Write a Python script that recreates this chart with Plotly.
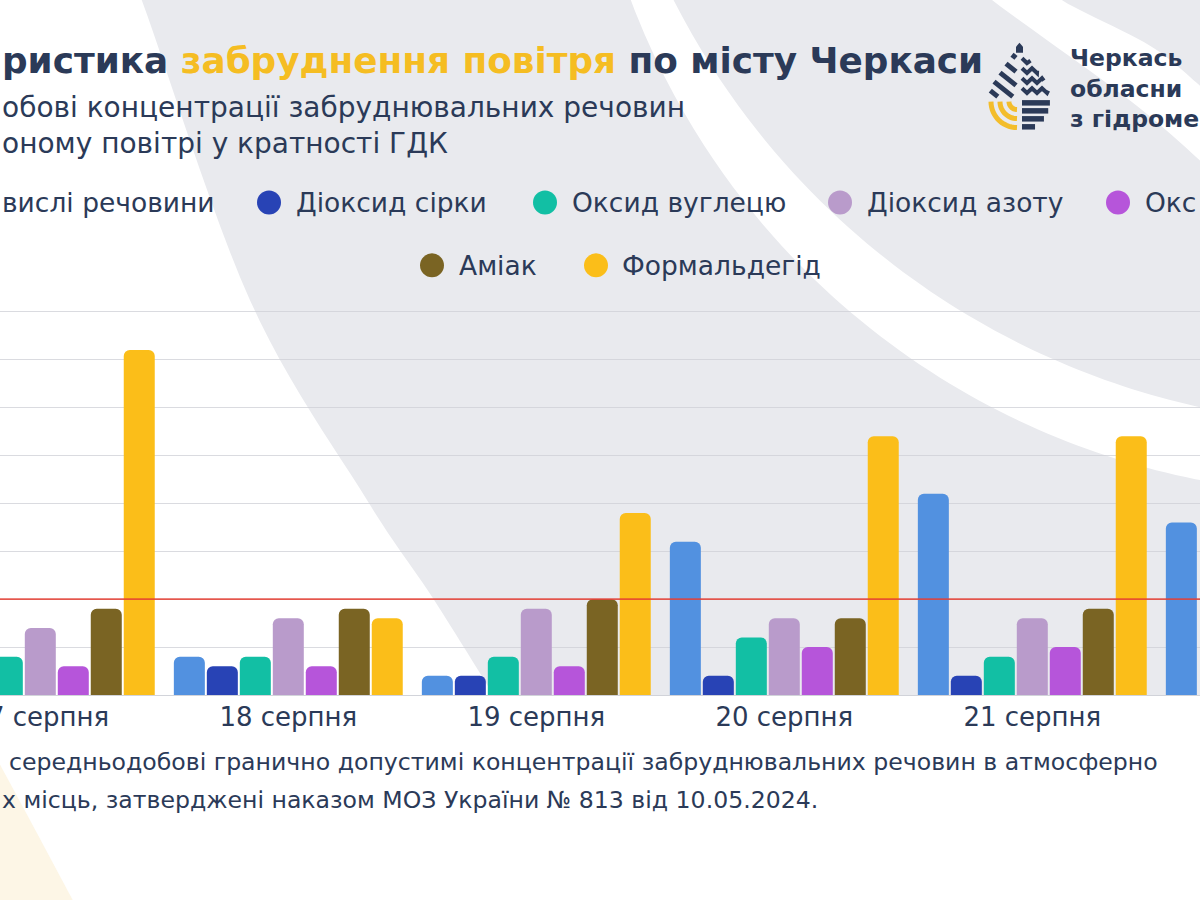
import plotly.graph_objects as go
import math

# ---------------- data ----------------
dates = ["17 серпня", "18 серпня", "19 серпня", "20 серпня", "21 серпня", "22 серпня"]
series_names = ["Завислі речовини", "Діоксид сірки", "Оксид вуглецю", "Діоксид азоту",
                "Оксид азоту", "Аміак", "Формальдегід"]
zavysli = [None, 0.4, 0.2, 1.6, 2.1, 1.8]
dioksyd_sirky = [None, 0.3, 0.2, 0.2, 0.2, None]
oksyd_vuglecyu = [0.4, 0.4, 0.4, 0.6, 0.4, None]
dioksyd_azotu = [0.7, 0.8, 0.9, 0.8, 0.8, None]
oksyd_azotu = [0.3, 0.3, 0.3, 0.5, 0.5, None]
amiak = [0.9, 0.9, 1.0, 0.8, 0.9, None]
formaldegid = [3.6, 0.8, 1.9, 2.7, 2.7, None]
gdk_level = 1.0
y_ticks = [0, 0.5, 1, 1.5, 2, 2.5, 3, 3.5, 4]

values = [zavysli, dioksyd_sirky, oksyd_vuglecyu, dioksyd_azotu, oksyd_azotu, amiak, formaldegid]
colors = ["#5291e0", "#2843b5", "#12bfa4", "#b99bcb", "#b655da", "#7a6423", "#fbbe19"]

NAVY = "#2b3a58"
YELLOW_T = "#f5bd22"
GRAY_BG = "#e9eaee"
FONT = "DejaVu Sans"

W, H = 1200, 900
Y_TOP = 4.1
MB = 204.7
PLOT_H = Y_TOP * 96
MT = H - MB - PLOT_H


def px(x):
    return x / W


def py(y):
    return (H - MB - y) / PLOT_H


def path_from(points, close=True):
    s = "M " + " L ".join(f"{px(x):.5f},{py(y):.5f}" for x, y in points)
    return s + (" Z" if close else "")


def catmull(points, n=12):
    out = []
    pts = [points[0]] + points + [points[-1]]
    for i in range(1, len(pts) - 2):
        p0, p1, p2, p3 = pts[i - 1], pts[i], pts[i + 1], pts[i + 2]
        for k in range(n):
            t = k / n
            t2, t3 = t * t, t * t * t
            x = 0.5 * ((2 * p1[0]) + (-p0[0] + p2[0]) * t + (2 * p0[0] - 5 * p1[0] + 4 * p2[0] - p3[0]) * t2 + (-p0[0] + 3 * p1[0] - 3 * p2[0] + p3[0]) * t3)
            y = 0.5 * ((2 * p1[1]) + (-p0[1] + p2[1]) * t + (2 * p0[1] - 5 * p1[1] + 4 * p2[1] - p3[1]) * t2 + (-p0[1] + 3 * p1[1] - 3 * p2[1] + p3[1]) * t3)
            out.append((x, y))
    out.append(points[-1])
    return out


def circle_arc_x(cx, cy, r, x0, x1, n=60):
    pts = []
    for i in range(n + 1):
        x = x0 + (x1 - x0) * i / n
        d = r * r - (x - cx) ** 2
        y = cy + math.sqrt(max(d, 0))
        pts.append((x, y))
    return pts


shapes = []

# ---- decorative background ----
left_edge = catmull([(130, -20), (142, 0), (250, 300), (367, 500), (432, 597), (494, 696)])
gray_poly = left_edge + [(1215, 696), (1215, -20)]
shapes.append(dict(type="path", xref="paper", yref="paper", path=path_from(gray_poly),
                   fillcolor=GRAY_BG, line=dict(width=0), layer="below"))

band1_l = circle_arc_x(1345.9, -270.2, 764.3, 625, 1215)
band1_r = circle_arc_x(1367.0, -352.2, 777.4, 1215, 665)
band1 = [p for p in band1_l if p[1] <= 696] + [(1215, 696)] + band1_r
shapes.append(dict(type="path", xref="paper", yref="paper", path=path_from(band1),
                   fillcolor="white", line=dict(width=0), layer="below"))

band2_l = catmull([(975, -20), (993, 0), (1130, 100), (1200, 160), (1230, 190)])
band2_r = catmull([(1230, 110), (1200, 85), (1150, 45), (1063, 0), (1050, -20)])
shapes.append(dict(type="path", xref="paper", yref="paper", path=path_from(band2_l + band2_r),
                   fillcolor="white", line=dict(width=0), layer="below"))

cream = catmull([(0, 765), (35, 830), (75, 905)]) + [(0, 905)]
shapes.append(dict(type="path", xref="paper", yref="paper", path=path_from(cream),
                   fillcolor="#fdf6e6", line=dict(width=0), layer="below"))

# ---- logo (drop) ----
cx_d, top_d, cy_d, r_d = 1019.5, 45, 100, 30.5


def hw(y):
    if y < 83.4:
        return max((y - top_d) * 0.666, 0)
    return math.sqrt(max(r_d ** 2 - (y - cy_d) ** 2, 0))


for (ya, yb) in [(99.5, 105), (107.5, 113), (115.5, 121), (123.5, 129)]:
    xr = cx_d + hw((ya + yb) / 2)
    shapes.append(dict(type="path", xref="paper", yref="paper",
                       path=path_from([(1022, ya), (xr, ya), (xr, yb), (1022, yb)]),
                       fillcolor=NAVY, line=dict(width=0), layer="above"))
for yw in [60, 70, 80, 90]:
    xr = cx_d + hw(yw + 3) - 1
    pts = []
    x = 1022
    k = 0
    while x < xr:
        pts.append((x, yw + (2.4 if k % 2 else -2.4)))
        x += 5
        k += 1
    pts.append((xr, yw))
    shapes.append(dict(type="path", xref="paper", yref="paper", path=path_from(pts, close=False),
                       line=dict(color=NAVY, width=4), layer="above"))
shapes.append(dict(type="path", xref="paper", yref="paper",
                   path=path_from([(1016, 46), (1019.5, 42), (1023, 46), (1023, 52), (1016, 52)]),
                   fillcolor=NAVY, line=dict(width=0), layer="above"))
for y0 in [54, 63, 72, 81, 90]:
    xl = cx_d - hw(y0 + 3) + 0.5
    ye = min(y0 + 0.8 * (1016 - xl), 96)
    xe = xl + (ye - y0) / 0.8
    shapes.append(dict(type="path", xref="paper", yref="paper",
                       path=path_from([(xl, y0), (xe, ye)], close=False),
                       line=dict(color=NAVY, width=5), layer="above"))
for rr in [8, 17, 26]:
    pts = [(1017 - rr * math.cos(a * math.pi / 180), 101 + rr * math.sin(a * math.pi / 180))
           for a in range(0, 91, 6)]
    shapes.append(dict(type="path", xref="paper", yref="paper", path=path_from(pts, close=False),
                       line=dict(color="#f3bd2b", width=5), layer="above"))

# ---- GDK line ----
shapes.append(dict(type="line", xref="paper", yref="y", x0=0, x1=1, y0=gdk_level, y1=gdk_level,
                   line=dict(color="rgba(228,62,50,0.85)", width=1.8), layer="above"))

# ---- manual legend ----
legend_items = [
    (None, 0, 202, 0, "вислі речовини"),
    (269, 294, 202, 1, "Діоксид сірки"),
    (545, 570, 202, 2, "Оксид вуглецю"),
    (840, 865, 202, 3, "Діоксид азоту"),
    (1118, 1143, 202, 4, "Окс"),
    (432, 457, 265, 5, "Аміак"),
    (596, 620, 265, 6, "Формальдегід"),
]
annotations = []
for mx, tx, ly, ci, txt in legend_items:
    if mx is not None:
        shapes.append(dict(type="circle", xref="paper", yref="paper",
                           x0=px(mx - 12), x1=px(mx + 12), y0=py(ly + 12), y1=py(ly - 12),
                           fillcolor=colors[ci], line=dict(width=0), layer="above"))
    annotations.append(dict(x=px(tx), y=py(ly), xref="paper", yref="paper", xanchor="left",
                            yanchor="middle", text=txt, showarrow=False,
                            font=dict(family=FONT, size=26.5, color=NAVY)))

# ---- titles ----
annotations.append(dict(
    x=0, y=py(60), xref="paper", yref="paper", xanchor="left", yanchor="middle", showarrow=False,
    text=f"<b>ристика <span style='color:{YELLOW_T}'>забруднення повітря</span> по місту Черкаси</b>",
    font=dict(family=FONT, size=35.8, color=NAVY)))
for yy, txt in [(107, "обові концентрації забруднювальних речовин"), (143, "оному повітрі у кратності ГДК")]:
    annotations.append(dict(x=0, y=py(yy), xref="paper", yref="paper", xanchor="left", yanchor="middle",
                            showarrow=False, text=txt, font=dict(family=FONT, size=28, color=NAVY)))
annotations.append(dict(x=px(1068), y=py(88), xref="paper", yref="paper", xanchor="left", yanchor="middle",
                        showarrow=False, align="left", text="<b>Черкась<br>обласни<br>з гідроме</b>",
                        font=dict(family=FONT, size=23.5, color=NAVY)))
# ---- footnote ----
for xx, yy, txt in [(7, 762, "середньодобові гранично допустимі концентрації забруднювальних речовин в атмосферно"),
                    (0, 800, "х місць, затверджені наказом МОЗ України № 813 від 10.05.2024.")]:
    annotations.append(dict(x=px(xx), y=py(yy), xref="paper", yref="paper", xanchor="left", yanchor="middle",
                            showarrow=False, text=txt,
                            font=dict(family=FONT, size=23.6, color=NAVY)))

fig = go.Figure()
for name, vals, col in zip(series_names, values, colors):
    fig.add_trace(go.Bar(x=dates, y=vals, name=name, marker=dict(color=col, line=dict(width=0)),
                         showlegend=False))

fig.update_layout(
    width=W, height=H,
    margin=dict(l=0, r=0, t=MT, b=MB, pad=0, autoexpand=False),
    paper_bgcolor="white",
    plot_bgcolor="rgba(0,0,0,0)",
    barmode="group",
    bargap=0.069,
    bargroupgap=0.06,
    barcornerradius=6,
    showlegend=False,
    shapes=shapes,
    annotations=annotations,
    xaxis=dict(type="category", range=[-40.3 / 248, (1200 - 40.3) / 248], showgrid=False,
               showline=False, ticks="", tickfont=dict(family=FONT, size=26, color=NAVY),
               ticklabelstandoff=4, automargin=False, fixedrange=True),
    yaxis=dict(range=[0, Y_TOP], tickvals=y_ticks, showticklabels=False, showgrid=True,
               gridcolor="rgba(205,207,214,0.75)", gridwidth=1, zeroline=True,
               zerolinecolor="rgba(205,207,214,0.9)", zerolinewidth=1, automargin=False,
               fixedrange=True),
)

fig.write_html("out.html", config={"displayModeBar": False},
               post_script="document.body.style.margin='0';document.body.style.overflow='hidden';")
